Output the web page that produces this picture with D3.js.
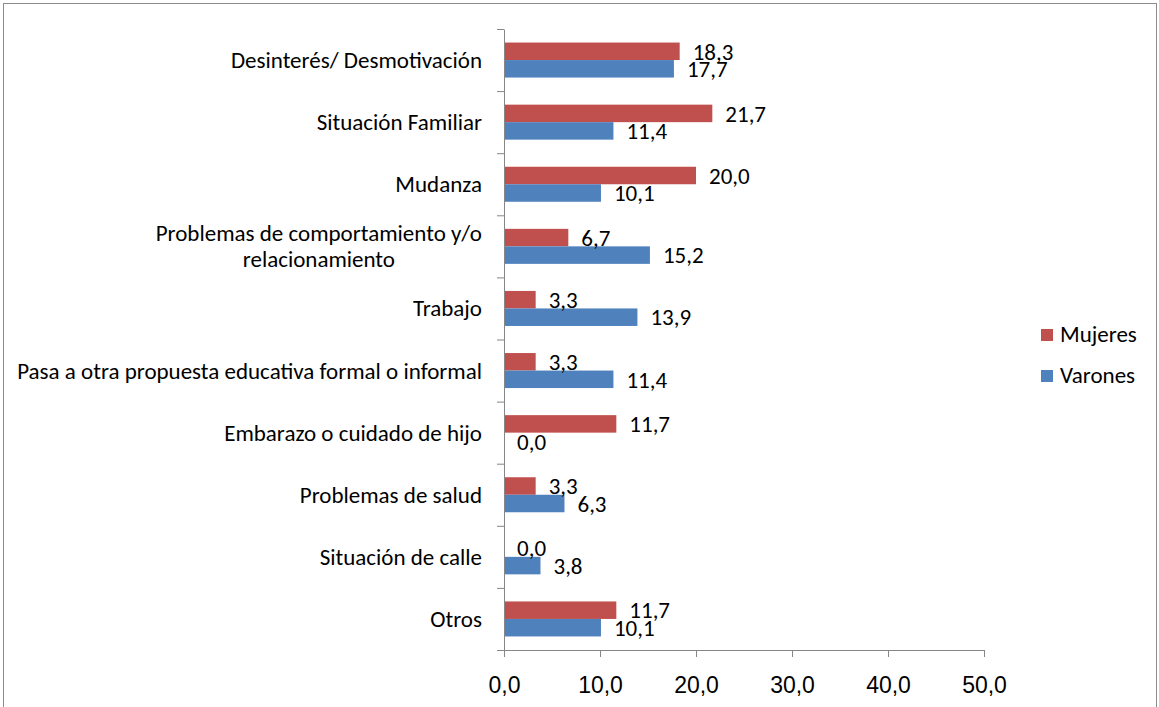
<!DOCTYPE html>
<html>
<head>
<meta charset="utf-8">
<script src="https://cdn.jsdelivr.net/npm/d3@7"></script>
<style>
  body { margin: 0; background: #fff; }
  svg { display: block; font-family: Carlito, Calibri, "Open Sans", sans-serif; }
</style>
</head>
<body>
<div id="chart"></div>
<script>
const categories = [
  ["Desinterés/ Desmotivación"],
  ["Situación Familiar"],
  ["Mudanza"],
  ["Problemas de comportamiento y/o", "relacionamiento"],
  ["Trabajo"],
  ["Pasa a otra propuesta educativa formal o informal"],
  ["Embarazo o cuidado de hijo"],
  ["Problemas de salud"],
  ["Situación de calle"],
  ["Otros"]
];
const mujeres = [18.3, 21.7, 20.0, 6.7, 3.3, 3.3, 11.7, 3.3, 0.0, 11.7];
const varones = [17.7, 11.4, 10.1, 15.2, 13.9, 11.4, 0.0, 6.3, 3.8, 10.1];
const seriesNames = ["Mujeres", "Varones"];
const seriesColors = ["#C0504D", "#4F81BD"];
const xTicks = [0, 10, 20, 30, 40, 50];

const width = 1159;
const height = 707;
const marginTop = 29;
const marginBottom = 57;
const marginLeft = 504;
const plotRight = 984;
const axisColor = "#868686";
const fontSize = 23;

const fmt = v => v.toFixed(1).replace(".", ",");

const svg = d3.select("#chart")
  .append("svg")
    .attr("width", width)
    .attr("height", height);

// chart frame
svg.append("rect")
  .attr("x", 3.5)
  .attr("y", 3.5)
  .attr("width", 1153)
  .attr("height", 720)
  .attr("fill", "none")
  .attr("stroke", "#8c8c8c");

const x = d3.scaleLinear()
  .domain([0, 50])
  .range([marginLeft, plotRight]);

const y0 = d3.scaleBand()
  .domain(d3.range(categories.length))
  .range([marginTop, height - marginBottom]);

const y1 = d3.scaleBand()
  .domain(seriesNames)
  .range([0, y0.bandwidth()])
  .paddingOuter(0.774);

const rows = categories.map((c, i) => ({
  index: i,
  values: [
    {series: seriesNames[0], value: mujeres[i]},
    {series: seriesNames[1], value: varones[i]}
  ]
}));

// bars
const groups = svg.append("g")
  .selectAll("g")
  .data(rows)
  .join("g")
    .attr("transform", d => `translate(0,${y0(d.index)})`);

groups.selectAll("rect")
  .data(d => d.values)
  .join("rect")
    .attr("x", x(0))
    .attr("y", d => y1(d.series))
    .attr("width", d => x(d.value) - x(0))
    .attr("height", y1.bandwidth())
    .attr("fill", (d, i) => seriesColors[i]);

// value labels
groups.selectAll("text")
  .data(d => d.values)
  .join("text")
    .attr("x", d => x(d.value) + 13)
    .attr("y", d => y1(d.series) + y1.bandwidth() - 0.5)
    .attr("font-size", fontSize)
    .attr("fill", "#000")
    .text(d => fmt(d.value));

// x axis
const xAxis = svg.append("g")
  .attr("transform", `translate(0,${height - marginBottom})`)
  .call(d3.axisBottom(x)
    .tickValues(xTicks)
    .tickSize(7)
    .tickSizeOuter(0)
    .tickFormat(fmt));
xAxis.select(".domain").remove();
xAxis.selectAll("line").attr("stroke", axisColor);
xAxis.selectAll("text")
  .attr("y", 43)
  .attr("dy", null)
  .attr("font-size", fontSize)
  .attr("font-family", null)
  .attr("fill", "#000");

svg.append("line")
  .attr("x1", marginLeft - 7)
  .attr("x2", plotRight)
  .attr("y1", height - marginBottom + 0.5)
  .attr("y2", height - marginBottom + 0.5)
  .attr("stroke", axisColor);

// y axis with ticks at band boundaries
const yEdges = d3.scaleLinear()
  .domain([0, categories.length])
  .range([marginTop, height - marginBottom]);

const yAxis = svg.append("g")
  .attr("transform", `translate(${marginLeft},0)`)
  .call(d3.axisLeft(yEdges)
    .tickValues(d3.range(categories.length + 1))
    .tickSize(7)
    .tickSizeOuter(0)
    .tickFormat(""));
yAxis.select(".domain").attr("stroke", axisColor);
yAxis.selectAll("line").attr("stroke", axisColor);

// category labels
const lineHeight = 26;
const labels = svg.append("g")
  .selectAll("text")
  .data(categories)
  .join("text")
    .attr("font-size", fontSize)
    .attr("fill", "#000")
    .attr("text-anchor", "middle");

labels.each(function(lines, i) {
  const t = d3.select(this);
  const cy = y0(i) + y0.bandwidth() / 2;
  lines.forEach((s, k) => {
    t.append("tspan")
      .attr("y", cy + 8 + (k - (lines.length - 1) / 2) * lineHeight)
      .text(s);
  });
  // right-align the centred block
  const w = d3.max(t.selectAll("tspan").nodes(), n => n.getComputedTextLength());
  t.selectAll("tspan").attr("x", marginLeft - 22 - w / 2);
});

// legend
const legend = svg.append("g")
  .selectAll("g")
  .data(seriesNames)
  .join("g")
    .attr("transform", (d, i) => `translate(1041,${329 + i * 41})`);

legend.append("rect")
  .attr("width", 12)
  .attr("height", 12)
  .attr("fill", (d, i) => seriesColors[i]);

legend.append("text")
  .attr("x", 19)
  .attr("y", 13)
  .attr("font-size", fontSize)
  .attr("fill", "#000")
  .text(d => d);
</script>
</body>
</html>
